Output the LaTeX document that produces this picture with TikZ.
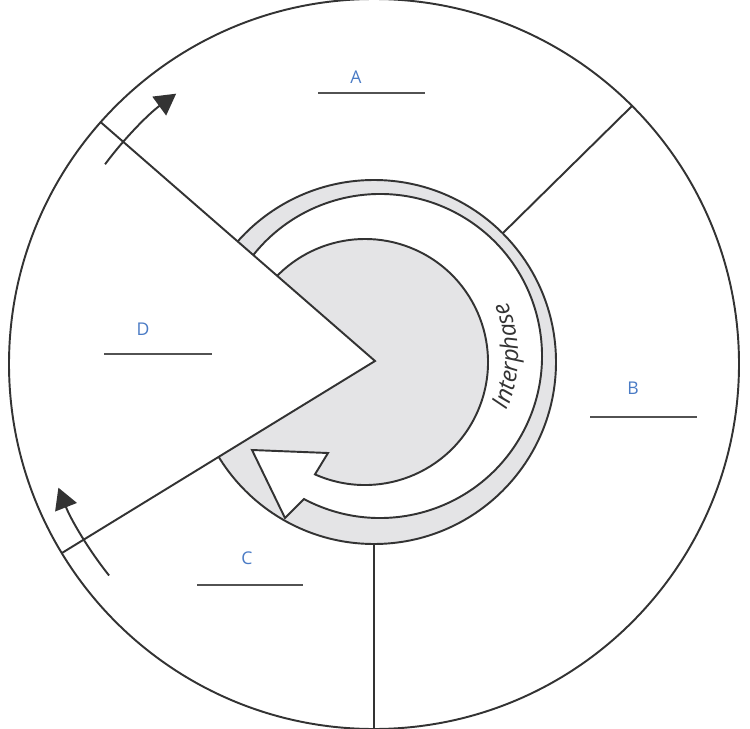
\documentclass[tikz,border=0pt]{standalone}
\usepackage{fontspec}
\setsansfont{Open Sans}
\usepackage{tikz}
\usetikzlibrary{calc}
\usetikzlibrary{arrows.meta}
\usetikzlibrary{decorations.text}

\definecolor{ringgray}{HTML}{E4E4E6}
\definecolor{inkgray}{HTML}{333333}
\definecolor{labelblue}{HTML}{4A7BC5}

\tikzset{
    outline/.style={draw=inkgray, line width=1.1pt},
    phaselabel/.style={text=labelblue, font=\sffamily\fontsize{10}{12}\selectfont},
    blankline/.style={draw=inkgray!85, line width=1.1pt},
    cyclearrow/.style={draw=inkgray, line width=1.1pt, -{Triangle[length=0.42cm, width=0.46cm]}}
}

\begin{document}
\begin{tikzpicture}[x=0.02cm, y=0.02cm]
    \useasboundingbox (0,0) rectangle (750,728);

    \coordinate (O) at (374,364);
    \coordinate (R) at (374,366);
    \coordinate (W) at (380,372);
    \coordinate (K) at (365,366);
    \coordinate (P) at (375,367);
    \coordinate (U) at ($(O)+(138.5:365)$);
    \coordinate (L) at ($(O)+(211.2:365)$);
    \coordinate (ringNE) at ($(R)+(45:182)$);
    \coordinate (rimNE) at ($(O)+(45:365)$);
    \coordinate (ringS) at ($(R)+(-90:182)$);
    \coordinate (rimS) at ($(O)+(-90:365)$);

    % interphase ring and disk
    \fill[ringgray] (R) circle[radius=182];
    \draw[outline] (R) circle[radius=182];
    \filldraw[fill=white, outline] ($(W)+(150:162)$) arc[start angle=150, end angle=-118, radius=162]
        -- (285,210) -- (252,278) -- (328,275) -- ($(K)+(246:123)$)
        arc[start angle=246, end angle=510, radius=123] -- cycle;
    \path[decorate, decoration={text along path, text align=center,
        text={|\sffamily\itshape\fontsize{13.5}{15}\selectfont\color{inkgray}|Interphase}}]
        ($(W)+(-30:138)$) arc[start angle=-30, end angle=30, radius=138];

    % mitosis wedge
    \fill[white] (P) -- (U) arc[start angle=138.5, end angle=211.2, radius=365] -- cycle;

    \draw[outline] (O) circle[radius=365];
    \draw[outline] (U) -- (P) -- (L);
    \draw[outline] (ringNE) -- (rimNE);
    \draw[outline] (ringS) -- (rimS);

    \draw[cyclearrow] ($(O)+(143.4:335)$) arc[start angle=143.4, end angle=126.2, radius=335];
    \draw[cyclearrow] ($(O)+(218.6:339)$) arc[start angle=218.6, end angle=201.4, radius=339];

    % labels
    \node[phaselabel] (A) at (356,651) {A};
    \draw[blankline] (318,635) -- (425,635);
    \node[phaselabel] (B) at (633,340) {B};
    \draw[blankline] (590,311) -- (697,311);
    \node[phaselabel] (C) at (247,170) {C};
    \draw[blankline] (197,143) -- (303,143);
    \node[phaselabel] (D) at (143,399) {D};
    \draw[blankline] (104,374) -- (212,374);
\end{tikzpicture}
\end{document}
